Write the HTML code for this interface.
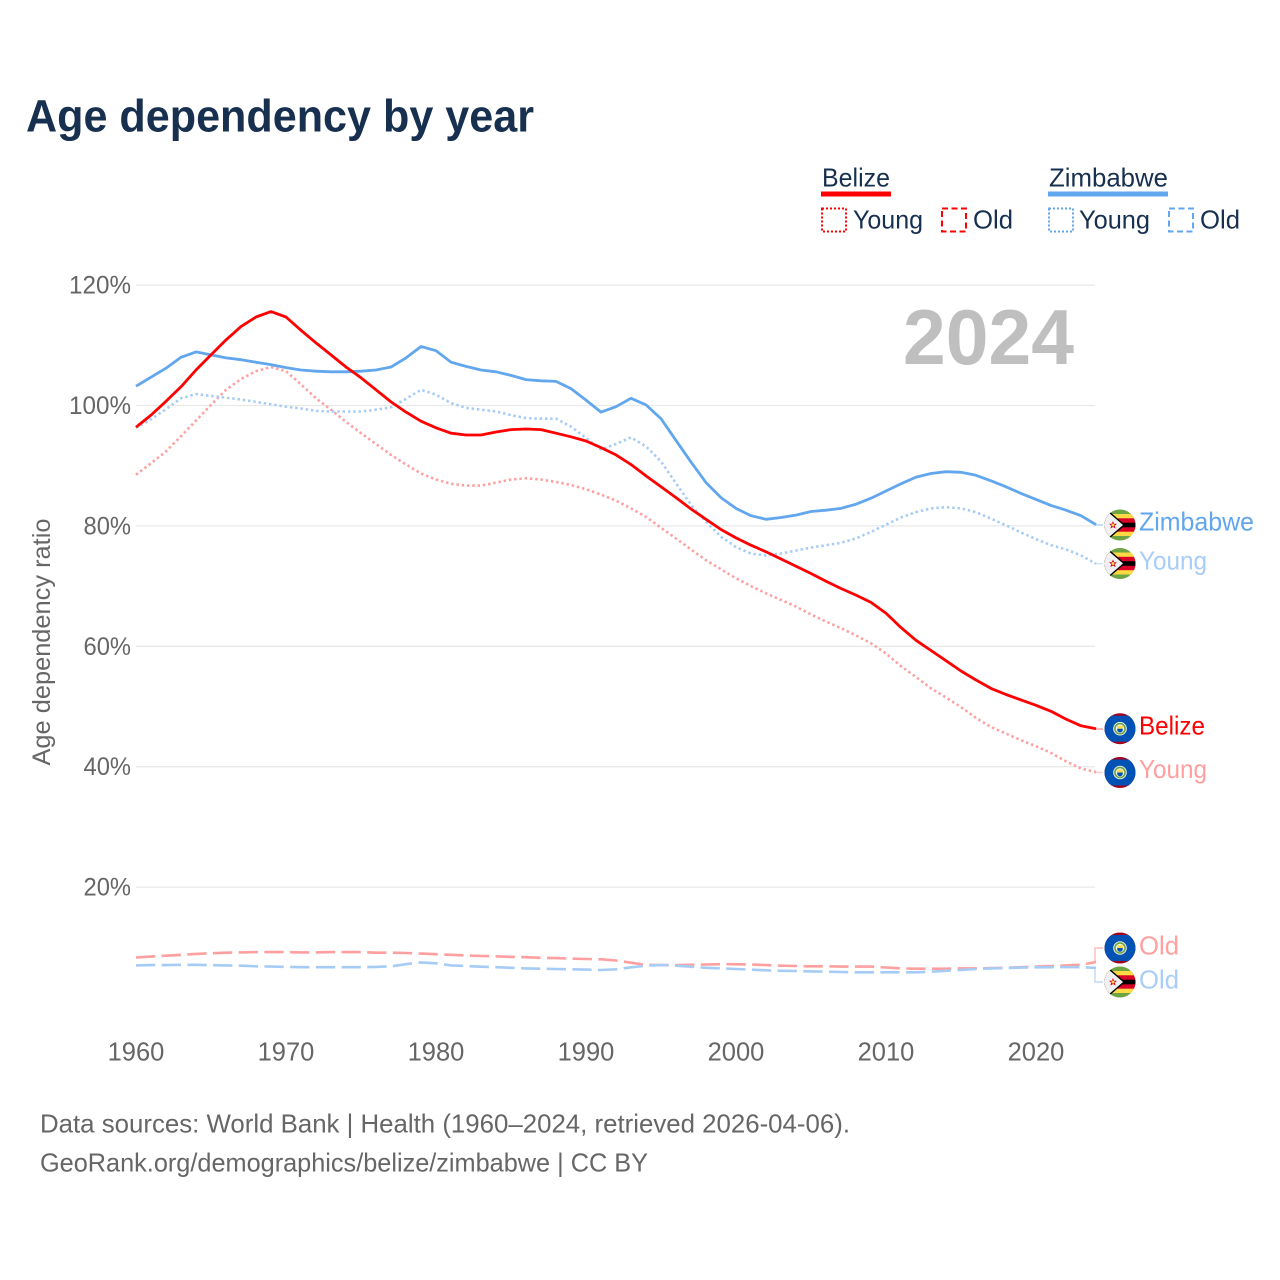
<!DOCTYPE html>
<html lang="en">
<head>
<meta charset="utf-8">
<title>Age dependency by year</title>
<style>
html,body{margin:0;padding:0;background:#fff;width:1280px;height:1280px;overflow:hidden}
svg{display:block}
text{font-family:"Liberation Sans",sans-serif}
</style>
</head>
<body>
<svg id="chart" xmlns="http://www.w3.org/2000/svg" width="1280" height="1280" viewBox="0 0 1280 1280">
  <defs>
    <clipPath id="flag-clip"><circle cx="0" cy="0" r="15.5"/></clipPath>
    <symbol id="flag-zimbabwe" viewBox="-16 -16 32 32" width="32" height="32" overflow="visible">
      <g clip-path="url(#flag-clip)">
        <rect x="-16" y="-16" width="32" height="32" fill="#6da544"/>
        <rect x="-16" y="-11" width="32" height="22" fill="#ffda44"/>
        <rect x="-16" y="-6.7" width="32" height="13.4" fill="#d80027"/>
        <rect x="-16" y="-2.3" width="32" height="4.6" fill="#000"/>
        <polygon points="-16,-16 -11,-14 5,0 -11,14 -16,16" fill="#000"/>
        <polygon points="-16,-14 -11.5,-12.5 3,0 -11.5,12.5 -16,14" fill="#f0f0f0"/>
        <polygon points="-7,-4 -5.8,-1.2 -3,-1.2 -5.2,0.8 -4.4,3.6 -7,2 -9.6,3.6 -8.8,0.8 -11,-1.2 -8.2,-1.2" fill="#d80027"/>
        <circle cx="-7" cy="0" r="1.5" fill="#ffda44"/>
      </g>
    </symbol>
    <symbol id="flag-belize" viewBox="-16 -16 32 32" width="32" height="32" overflow="visible">
      <g clip-path="url(#flag-clip)">
        <rect x="-16" y="-16" width="32" height="32" fill="#a2001d"/>
        <rect x="-16" y="-13" width="32" height="26" fill="#0052b4"/>
        <circle cx="0" cy="0" r="6.8" fill="#f0f0f0"/>
        <circle cx="0" cy="0" r="5.1" fill="none" stroke="#6da544" stroke-width="1.6"/>
        <rect x="-2.8" y="-2.8" width="5.6" height="2.8" fill="#ffda44"/>
        <path d="M-2.8 0H2.8V1A2.8 2.8 0 0 1 -2.8 1Z" fill="#0052b4"/>
      </g>
    </symbol>
  </defs>

  <text x="26" y="131.5" font-size="45" font-weight="700" fill="#17304f" textLength="508" lengthAdjust="spacingAndGlyphs">Age dependency by year</text>

  <g id="grid"></g>
  <g id="y-ticks"></g>
  <g id="x-ticks"></g>
  <text transform="translate(50,642) rotate(-90)" text-anchor="middle" font-size="25" fill="#666" textLength="247" lengthAdjust="spacingAndGlyphs">Age dependency ratio</text>

  <text x="903" y="364" font-size="78" font-weight="700" fill="#bfbfbf" textLength="171" lengthAdjust="spacingAndGlyphs">2024</text>

  <g id="leaders"></g>
  <g id="series"></g>

  <g>
    <text x="822" y="186.5" font-size="26" fill="#17304f" textLength="68" lengthAdjust="spacingAndGlyphs">Belize</text>
    <rect x="821" y="191.5" width="70" height="5" fill="#ff0000"/>
    <rect x="822" y="208.5" width="24" height="23" fill="none" stroke="#ff0000" stroke-width="2" stroke-dasharray="2 2"/>
    <text x="853" y="228.5" font-size="26" fill="#17304f" textLength="70" lengthAdjust="spacingAndGlyphs">Young</text>
    <rect x="942" y="208.5" width="24" height="23" fill="none" stroke="#ff0000" stroke-width="2" stroke-dasharray="6 3.5"/>
    <text x="973" y="228.5" font-size="26" fill="#17304f" textLength="40" lengthAdjust="spacingAndGlyphs">Old</text>

    <text x="1049" y="186.5" font-size="26" fill="#17304f" textLength="119" lengthAdjust="spacingAndGlyphs">Zimbabwe</text>
    <rect x="1048" y="191.5" width="120" height="5" fill="#62a6ee"/>
    <rect x="1049" y="208.5" width="24" height="23" fill="none" stroke="#62a6ee" stroke-width="2" stroke-dasharray="2 2"/>
    <text x="1079" y="228.5" font-size="26" fill="#17304f" textLength="71" lengthAdjust="spacingAndGlyphs">Young</text>
    <rect x="1169" y="208.5" width="24" height="23" fill="none" stroke="#62a6ee" stroke-width="2" stroke-dasharray="6 3.5"/>
    <text x="1200" y="228.5" font-size="26" fill="#17304f" textLength="40" lengthAdjust="spacingAndGlyphs">Old</text>
  </g>

  <g>
    <use href="#flag-zimbabwe" x="1104" y="509"/>
    <text x="1139" y="530.5" font-size="26" fill="#62a6ee" textLength="115" lengthAdjust="spacingAndGlyphs">Zimbabwe</text>
    <use href="#flag-zimbabwe" x="1104" y="547.5"/>
    <text x="1139" y="569.5" font-size="26" fill="#a8cdf6" textLength="68" lengthAdjust="spacingAndGlyphs">Young</text>
    <use href="#flag-belize" x="1104" y="712.7"/>
    <text x="1139" y="734.5" font-size="26" fill="#ff0000" textLength="66" lengthAdjust="spacingAndGlyphs">Belize</text>
    <use href="#flag-belize" x="1104" y="756.5"/>
    <text x="1139" y="778" font-size="26" fill="#ff9f9f" textLength="68" lengthAdjust="spacingAndGlyphs">Young</text>
    <use href="#flag-belize" x="1104" y="932"/>
    <text x="1139" y="954.5" font-size="26" fill="#ff9f9f" textLength="40" lengthAdjust="spacingAndGlyphs">Old</text>
    <use href="#flag-zimbabwe" x="1104" y="966"/>
    <text x="1139" y="988.5" font-size="26" fill="#a8cdf6" textLength="40" lengthAdjust="spacingAndGlyphs">Old</text>
  </g>

  <text x="40" y="1132.5" font-size="26" fill="#666" textLength="810" lengthAdjust="spacingAndGlyphs">Data sources: World Bank | Health (1960–2024, retrieved 2026-04-06).</text>
  <text x="40" y="1171.5" font-size="26" fill="#666" textLength="608" lengthAdjust="spacingAndGlyphs">GeoRank.org/demographics/belize/zimbabwe | CC BY</text>
</svg>

<script>
const years = [
  1960,1961,1962,1963,1964,1965,1966,1967,1968,1969,
  1970,1971,1972,1973,1974,1975,1976,1977,1978,1979,
  1980,1981,1982,1983,1984,1985,1986,1987,1988,1989,
  1990,1991,1992,1993,1994,1995,1996,1997,1998,1999,
  2000,2001,2002,2003,2004,2005,2006,2007,2008,2009,
  2010,2011,2012,2013,2014,2015,2016,2017,2018,2019,
  2020,2021,2022,2023,2024
];
const belizeTotal = [
  96.4,98.4,100.7,103.1,105.9,108.4,110.9,113.1,114.7,115.6,
  114.7,112.5,110.4,108.4,106.4,104.6,102.6,100.6,98.9,97.4,
  96.3,95.4,95.1,95.1,95.6,96.0,96.1,96.0,95.4,94.8,
  94.1,93.0,91.8,90.2,88.3,86.5,84.7,82.8,81.1,79.4,
  78.0,76.8,75.7,74.5,73.3,72.1,70.8,69.6,68.5,67.3,
  65.5,63.1,61.0,59.3,57.6,55.9,54.4,53.0,52.0,51.1,
  50.2,49.2,47.9,46.8,46.3
];
const belizeYoung = [
  88.5,90.4,92.4,94.9,97.5,100.1,102.6,104.4,105.7,106.4,
  105.7,103.5,101.2,99.3,97.3,95.4,93.6,91.8,90.2,88.7,
  87.7,87.0,86.7,86.7,87.2,87.7,87.9,87.7,87.3,86.8,
  86.1,85.2,84.2,82.9,81.5,79.7,77.9,76.1,74.3,72.8,
  71.3,70.0,68.8,67.7,66.6,65.3,64.1,63.0,61.8,60.5,
  58.8,56.7,54.9,53.0,51.5,49.9,48.1,46.6,45.5,44.4,
  43.4,42.3,40.9,39.7,39.1
];
const belizeOld = [
  8.3,8.45,8.6,8.75,8.9,9.0,9.1,9.15,9.2,9.2,
  9.2,9.15,9.15,9.2,9.2,9.2,9.1,9.1,9.05,8.95,
  8.85,8.75,8.65,8.55,8.5,8.4,8.35,8.25,8.2,8.1,
  8.05,8.0,7.8,7.45,7.1,7.05,7.05,7.1,7.15,7.2,
  7.2,7.15,7.05,6.95,6.9,6.85,6.85,6.8,6.8,6.8,
  6.65,6.5,6.45,6.45,6.45,6.5,6.5,6.55,6.6,6.7,
  6.8,6.9,7.0,7.1,7.55
];
const zimbabweTotal = [
  103.2,104.7,106.2,108.0,108.9,108.4,107.9,107.6,107.2,106.8,
  106.3,105.9,105.7,105.6,105.6,105.7,105.9,106.4,107.9,109.8,
  109.1,107.2,106.5,105.9,105.6,105.0,104.3,104.1,104.0,102.8,
  100.9,98.9,99.8,101.2,100.1,97.8,94.2,90.6,87.2,84.7,
  82.9,81.7,81.1,81.4,81.8,82.4,82.6,82.9,83.6,84.6,
  85.8,87.0,88.1,88.7,89.0,88.9,88.4,87.5,86.5,85.4,
  84.4,83.4,82.6,81.7,80.2
];
const zimbabweYoung = [
  96.3,97.7,99.4,101.2,101.9,101.6,101.3,101.0,100.6,100.2,
  99.8,99.5,99.1,99.0,99.0,99.0,99.3,99.7,101.1,102.6,
  101.8,100.4,99.6,99.3,99.0,98.4,97.9,97.8,97.8,96.5,
  94.6,92.7,93.6,94.7,93.2,90.7,87.1,83.5,80.7,78.2,
  76.5,75.4,75.1,75.4,75.9,76.4,76.8,77.2,77.9,79.0,
  80.2,81.4,82.3,82.9,83.1,82.9,82.3,81.2,80.1,78.9,
  77.8,76.8,76.1,75.1,73.7
];
const zimbabweOld = [
  7.0,7.05,7.05,7.1,7.1,7.05,7.0,6.95,6.85,6.8,
  6.75,6.7,6.7,6.7,6.7,6.7,6.75,6.84,7.2,7.5,
  7.34,7.0,6.9,6.78,6.7,6.6,6.5,6.45,6.4,6.34,
  6.3,6.23,6.34,6.68,6.94,7.06,6.94,6.78,6.6,6.5,
  6.4,6.3,6.18,6.1,6.06,6.0,5.95,5.9,5.85,5.85,
  5.85,5.85,5.85,5.95,6.1,6.25,6.4,6.5,6.56,6.62,
  6.68,6.7,6.73,6.7,6.6
];
const yTickValues = [20,40,60,80,100,120];
const xTickValues = [1960,1970,1980,1990,2000,2010,2020];

const NS = 'http://www.w3.org/2000/svg';
function xScale(year){ return 136 + (year - 1960) * 15; }
function yScale(value){ return 1007.5 - value * 6.02; }
function linePath(values){
  return values.map(function(v,i){
    return (i ? 'L' : 'M') + xScale(years[i]).toFixed(1) + ' ' + yScale(v).toFixed(1);
  }).join('');
}

const gridGroup = document.getElementById('grid');
const yTickGroup = document.getElementById('y-ticks');
yTickValues.forEach(function(v){
  const line = document.createElementNS(NS,'line');
  
  
  line.setAttribute('x1', xScale(1960));
  line.setAttribute('x2', 1095);
  line.setAttribute('y1', yScale(v));
  line.setAttribute('y2', yScale(v));
  line.setAttribute('stroke', '#e9e9e9');
  line.setAttribute('stroke-width', '1.3');
  gridGroup.appendChild(line);

  const label = document.createElementNS(NS,'text');
  
  
  const s = v + '%';
  label.textContent = s;
  label.setAttribute('x', 131);
  label.setAttribute('y', yScale(v) + 8.5);
  label.setAttribute('text-anchor', 'end');
  label.setAttribute('font-size', '25');
  label.setAttribute('fill', '#666');
  label.setAttribute('textLength', (s.length - 1) * 14.5 + 18.5);
  label.setAttribute('lengthAdjust', 'spacingAndGlyphs');
  yTickGroup.appendChild(label);
});

const xTickGroup = document.getElementById('x-ticks');
xTickValues.forEach(function(year){
  const label = document.createElementNS(NS,'text');
  
  
  label.textContent = String(year);
  label.setAttribute('x', xScale(year));
  label.setAttribute('y', 1060.5);
  label.setAttribute('text-anchor', 'middle');
  label.setAttribute('font-size', '25.5');
  label.setAttribute('fill', '#666');
  xTickGroup.appendChild(label);
});

const seriesGroup = document.getElementById('series');
function drawSeries(name, values, color, width, dash){
  const p = document.createElementNS(NS,'path');
  
  
  p.setAttribute('d', linePath(values));
  p.setAttribute('fill', 'none');
  p.setAttribute('stroke', color);
  p.setAttribute('stroke-width', width);
  p.setAttribute('stroke-linejoin', 'round');
  if (dash) p.setAttribute('stroke-dasharray', dash);
  seriesGroup.appendChild(p);
}
drawSeries('line-belize-old', belizeOld, '#ff9f9f', 2.6, '19.3 6.4');
drawSeries('line-zimbabwe-old', zimbabweOld, '#a6ccf6', 2.6, '19.3 6.4');
drawSeries('line-belize-young', belizeYoung, '#ff9f9f', 2.6, '2.4 2.9');
drawSeries('line-zimbabwe-young', zimbabweYoung, '#a6ccf6', 2.6, '2.4 2.9');
drawSeries('line-zimbabwe-total', zimbabweTotal, '#62a6ee', 2.8);
drawSeries('line-belize-total', belizeTotal, '#ff0000', 2.8);

const leaderGroup = document.getElementById('leaders');
function drawLeader(name, values, targetY, color){
  const endX = xScale(years[years.length - 1]);
  const endY = yScale(values[values.length - 1]);
  const p = document.createElementNS(NS,'path');
  
  
  p.setAttribute('d', 'M' + (endX - 1) + ' ' + endY.toFixed(1) + 'V' + targetY + 'H1103');
  p.setAttribute('fill', 'none');
  p.setAttribute('stroke', color);
  p.setAttribute('stroke-width', '1.4');
  leaderGroup.appendChild(p);
}
drawLeader('leader-zimbabwe-total', zimbabweTotal, 525, '#b4d4f7');
drawLeader('leader-zimbabwe-young', zimbabweYoung, 563.7, '#cfe3fa');
drawLeader('leader-belize-total', belizeTotal, 729, '#ffa0a0');
drawLeader('leader-belize-young', belizeYoung, 772.5, '#ffd0d0');
drawLeader('leader-belize-old', belizeOld, 948, '#ffb9b9');
drawLeader('leader-zimbabwe-old', zimbabweOld, 982, '#bcd9f8');
</script>
</body>
</html>
